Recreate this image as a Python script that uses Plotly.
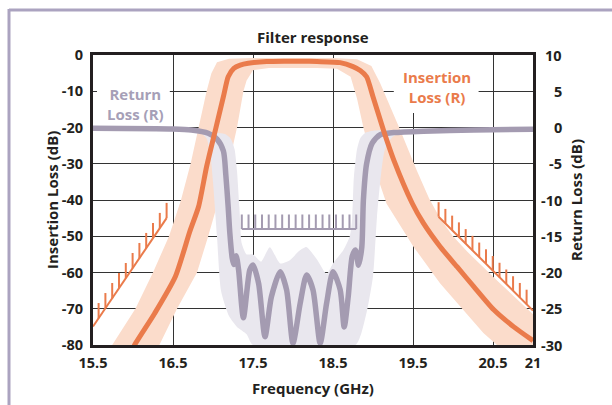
import numpy as np
import plotly.graph_objects as go

# ---------------- data ----------------
FREQ_TICKS = [15.5, 16.5, 17.5, 18.5, 19.5, 20.5, 21]
FREQ_TICK_TEXT = ["15.5", "16.5", "17.5", "18.5", "19.5", "20.5", "21"]
IL_TICKS = [0, -10, -20, -30, -40, -50, -60, -70, -80]
IL_TICK_TEXT = ["0", "-10", "-20", "-30", "-40", "-50", "-60", "-70", "-80"]
RL_TICKS = [10, 5, 0, -5, -10, -15, -20, -25, -30]
RL_TICK_TEXT = ["10", "5", "0", "-5", "-10", "-15", "-20", "-25", "-30"]

# insertion loss (left axis, dB)
il_freq = [15.98, 16.02, 16.27, 16.53, 16.71, 16.82, 16.92, 17.03, 17.13, 17.19, 17.26,
           17.34, 17.44, 17.67, 17.9, 18.1, 18.3, 18.59, 18.75, 18.84, 18.92, 19.0,
           19.13, 19.26, 19.49, 19.63, 19.84, 20.05, 20.26, 20.51, 20.76, 21.0]
il_db = [-82, -80, -71.3, -61.1, -48.7, -41.8, -30.8, -20.7, -11.5, -6.0, -3.7,
         -2.8, -2.3, -1.8, -1.7, -1.7, -1.8, -2.1, -3.2, -4.3, -6.0, -11.5,
         -20.7, -29.0, -40.9, -46.4, -52.9, -58.4, -63.9, -70.3, -75.0, -78.8]

# insertion loss tolerance band (polygon, left axis)
il_band_freq = [15.74, 16.03, 16.25, 16.45, 16.6, 16.72, 16.82, 16.92, 16.98, 17.05, 17.2,
                17.5, 18.5, 18.8, 18.98, 19.09, 19.34, 19.55, 19.7, 19.85, 20.0, 20.18,
                20.59, 21.0, 21.0,
                20.55, 20.38, 19.84, 19.51, 19.17, 19.0, 18.88, 18.8, 18.72, 18.55, 18.3,
                17.7, 17.5, 17.42, 17.38, 17.3, 17.2, 17.07, 16.94, 16.8, 16.55, 16.33]
il_band_db = [-80, -70, -60, -50, -40, -30, -20, -10, -5, -2, -1.0,
              -0.8, -0.8, -1.2, -3, -7.8, -20.7, -32, -39.5, -45.5, -50, -54.3,
              -63, -71.5, -80,
              -80, -76.7, -63, -53, -41, -30, -20, -12, -6, -3.8, -3.6,
              -3.6, -4.2, -7, -10, -20, -30, -40, -50, -60, -70, -80]

# return loss (right axis, dB)
rl_freq = [15.5, 16.5, 16.73, 16.94, 17.05, 17.13, 17.16, 17.19, 17.21, 17.24, 17.26,
           17.29, 17.32, 17.38, 17.46, 17.5, 17.57, 17.65, 17.73, 17.84, 17.92, 18.0,
           18.09, 18.17, 18.25, 18.34, 18.42, 18.5, 18.59, 18.64, 18.69, 18.74, 18.78,
           18.82, 18.86, 18.88, 18.92, 18.99, 19.09, 19.26, 19.63, 20.26, 21.0]
rl_db = [-0.1, -0.2, -0.35, -0.8, -1.6, -3.25, -6.5, -11.0, -14.5, -18.0, -18.9,
         -17.7, -19.65, -26.25, -19.65, -18.95, -21.5, -28.85, -23.35, -19.9, -22.4, -29.75,
         -24.25, -20.35, -22.4, -29.75, -24.25, -19.9, -22.4, -27.5, -23.35, -17.8, -16.9,
         -19.0, -16.5, -10.0, -5.0, -2.15, -1.0, -0.7, -0.5, -0.35, -0.25]

# return loss tolerance band (polygon, right axis)
rl_band_freq = [16.85, 17.0, 17.15, 17.22, 17.27, 17.30, 17.33, 17.36, 17.42, 17.5, 17.6,
                17.71, 17.84, 17.96, 18.08, 18.17, 18.3, 18.42, 18.5, 18.63, 18.71, 18.74,
                18.76, 18.80, 18.84, 18.9, 19.0, 19.2, 19.4, 19.25, 19.15, 19.1, 19.05,
                19.0, 18.93, 18.85, 18.78, 17.5, 17.42, 17.3, 17.2, 17.1, 17.05, 17.0,
                16.97, 16.92, 16.85]
rl_band_db = [-0.5, -0.65, -0.9, -1.5, -3.0, -6.0, -11.0, -16.0, -17.5, -17.5, -18.5,
              -16.5, -18.75, -18.3, -17.0, -16.5, -18.2, -20.2, -18.75, -16.9, -15.0, -12.5,
              -7.0, -3.0, -1.5, -0.75, -0.45, -0.35, -0.4, -1.25, -3.0, -6.5, -12.3,
              -20.5, -25.0, -28.5, -30, -30, -28.5, -27.5, -26.0, -22.5, -15, -7.5,
              -4, -1.5, -0.75]

# specification masks (baseline end points)
mask_low_freq = [15.5, 16.42]
mask_low_db = [-74.9, -45.0]
mask_high_freq = [19.82, 21.0]
mask_high_db = [-44.6, -70.5]
rl_mask_freq = [17.36, 18.79]
rl_mask_db = [-14.0, -14.0]

# ---------------- style ----------------
IL_COLOR = "#ea7b4b"
IL_BAND = "#fbdccb"
RL_COLOR = "#a49bb1"
RL_BAND = "#e9e7ee"
RL_TEXT = "#a69fb7"
FRAME = "#aba3c0"
INK = "#231f20"
FONT = "Open Sans"

W, H = 612, 405
ML, MR, MT, MB = 93, 79, 55, 60
PW, PH = W - ML - MR, H - MT - MB


def pxx(px):
    return (px - ML) / PW


def pyy(py):
    return (H - MB - py) / PH


def hatch(bx, by, t0, t1, n, length):
    xs, ys = [], []
    for t in np.linspace(t0, t1, n):
        y = by[0] + (by[1] - by[0]) * (t - bx[0]) / (bx[1] - bx[0])
        xs += [t, t, None]
        ys += [y, y + length, None]
    return xs, ys


fig = go.Figure()

fig.add_trace(go.Scatter(x=il_band_freq, y=il_band_db, fill="toself", fillcolor=IL_BAND,
                         line=dict(width=0), mode="lines", hoverinfo="skip", yaxis="y"))
fig.add_trace(go.Scatter(x=rl_band_freq, y=rl_band_db, fill="toself", fillcolor=RL_BAND,
                         line=dict(width=0, shape="spline", smoothing=0.6), mode="lines",
                         hoverinfo="skip", yaxis="y2"))
fig.add_trace(go.Scatter(x=rl_freq, y=rl_db, mode="lines",
                         line=dict(color=RL_COLOR, width=5.5, shape="spline", smoothing=0.7),
                         yaxis="y2"))
hx, hy = hatch(rl_mask_freq, rl_mask_db, rl_mask_freq[0], rl_mask_freq[1], 18, 2.0)
fig.add_trace(go.Scatter(x=rl_mask_freq + [None] + hx, y=rl_mask_db + [None] + hy, mode="lines",
                         line=dict(color=RL_COLOR, width=2), yaxis="y2"))

fig.add_trace(go.Scatter(x=il_freq, y=il_db, mode="lines",
                         line=dict(color=IL_COLOR, width=5, shape="spline", smoothing=0.6),
                         yaxis="y3"))
hx, hy = hatch(mask_low_freq, mask_low_db, 15.57, 16.42, 11, 4.2)
fig.add_trace(go.Scatter(x=mask_low_freq + [None] + hx, y=mask_low_db + [None] + hy, mode="lines",
                         line=dict(color=IL_COLOR, width=2), yaxis="y3"))
hx, hy = hatch(mask_high_freq, mask_high_db, 19.82, 20.92, 14, 4.0)
fig.add_trace(go.Scatter(x=mask_high_freq + [None] + hx, y=mask_high_db + [None] + hy, mode="lines",
                         line=dict(color=IL_COLOR, width=2), yaxis="y3"))

bold = dict(family=FONT, size=14.5, color=INK, weight="bold")
bold15 = dict(family=FONT, size=15, color=INK, weight="bold")

fig.update_layout(
    width=W, height=H, margin=dict(l=ML, r=MR, t=MT, b=MB, pad=0),
    paper_bgcolor="white", plot_bgcolor="white", showlegend=False,
    xaxis=dict(range=[15.5, 21], tickvals=FREQ_TICKS, ticktext=FREQ_TICK_TEXT,
               showgrid=True, gridcolor="#333333", gridwidth=1.2, zeroline=False,
               showline=True, linewidth=3, linecolor=INK, mirror=True,
               ticks="outside", ticklen=3, tickcolor="rgba(0,0,0,0)", tickfont=bold),
    yaxis=dict(range=[-80, 0], tickvals=IL_TICKS, ticktext=IL_TICK_TEXT,
               showgrid=True, gridcolor="#333333", gridwidth=1.2, zeroline=False,
               showline=True, linewidth=3, linecolor=INK, mirror=True,
               ticks="outside", ticklen=4, tickcolor="rgba(0,0,0,0)", tickfont=bold),
    yaxis2=dict(range=[-30, 10], overlaying="y", side="right", showgrid=False, zeroline=False,
                showline=True, linewidth=3, linecolor=INK, showticklabels=False,
                tickvals=RL_TICKS),
    yaxis3=dict(range=[-80, 0], overlaying="y", visible=False),
)

# right-axis tick labels (right aligned like the reference)
for v, t in zip(RL_TICKS, RL_TICK_TEXT):
    fig.add_annotation(x=pxx(564), xref="paper", y=v, yref="y2", text=t, showarrow=False,
                       xanchor="right", yanchor="middle", font=bold)

# white breaks in the grid behind the labels
fig.add_shape(type="rect", xref="x", yref="y", x0=15.55, x1=16.46, y0=-5, y1=-18,
              fillcolor="white", line=dict(width=0), layer="between")
fig.add_shape(type="rect", xref="x", yref="y", x0=19.26, x1=20.32, y0=0, y1=-16,
              fillcolor="white", line=dict(width=0), layer="between")

fig.add_annotation(x=16.03, y=-13.5, xref="x", yref="y", text="Return<br>Loss (R)",
                   showarrow=False, font=dict(family=FONT, size=15, color=RL_TEXT, weight="bold"))
fig.add_annotation(x=19.8, y=-8.7, xref="x", yref="y", text="Insertion<br>Loss (R)",
                   showarrow=False, font=dict(family=FONT, size=15, color=IL_COLOR, weight="bold"))

fig.add_annotation(x=0.5, y=pyy(37), xref="paper", yref="paper", text="Filter response",
                   showarrow=False, yanchor="middle", font=bold15)
fig.add_annotation(x=pxx(40), y=0.5, xref="paper", yref="paper", text="Insertion Loss (dB)",
                   textangle=-90, showarrow=False, font=bold15)
fig.add_annotation(x=pxx(588), y=0.5, xref="paper", yref="paper", text="Return Loss (dB)",
                   textangle=-90, showarrow=False, font=bold15)
fig.add_annotation(x=0.5, y=pyy(388), xref="paper", yref="paper", text="Frequency (GHz)",
                   showarrow=False, yanchor="middle", font=bold15)

# outer frame (top and left edge)
fig.add_shape(type="line", xref="paper", yref="paper", x0=pxx(9), x1=pxx(614), y0=pyy(10), y1=pyy(10),
              line=dict(color=FRAME, width=3))
fig.add_shape(type="line", xref="paper", yref="paper", x0=pxx(9), x1=pxx(9), y0=pyy(9), y1=pyy(410),
              line=dict(color=FRAME, width=3))

fig.write_html("out.html", config={"displayModeBar": False},
               post_script="document.body.style.margin='0';")
